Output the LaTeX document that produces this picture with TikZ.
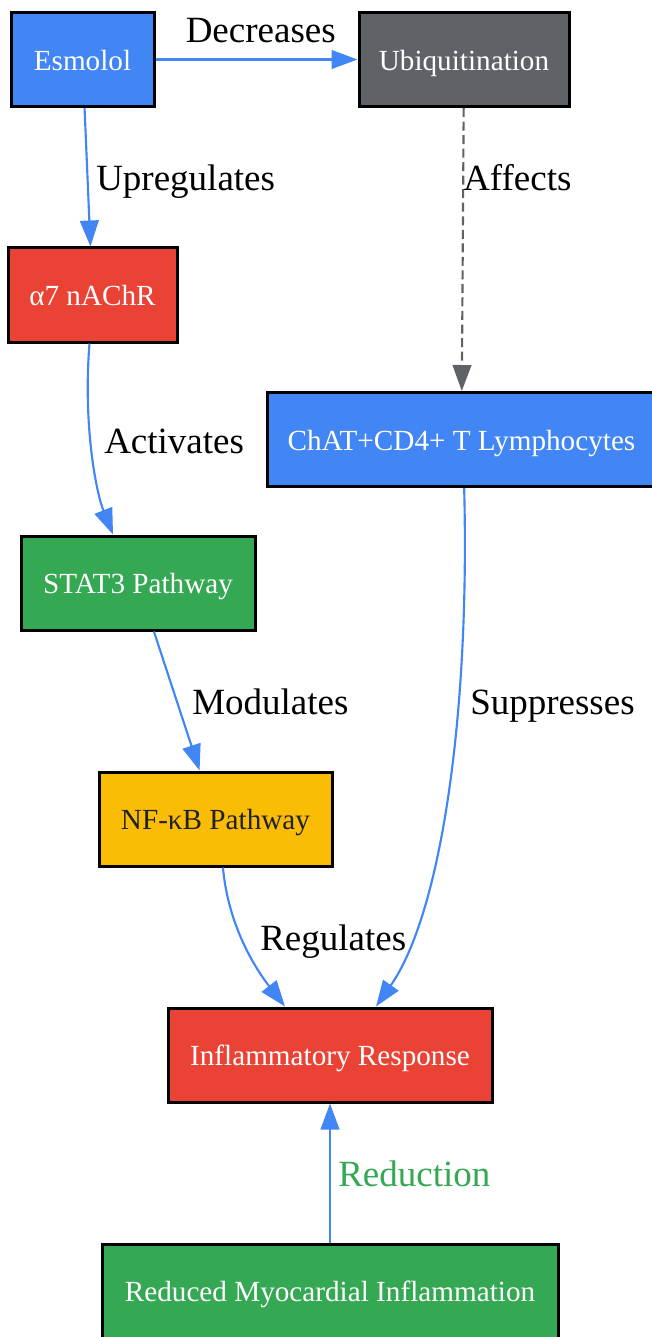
\documentclass[tikz,border=0pt]{standalone}
\usepackage{fontspec}
\setmainfont{Liberation Serif}
\usepackage{xcolor}
\definecolor{gblue}{HTML}{4285F4}
\definecolor{gred}{HTML}{EA4335}
\definecolor{ggreen}{HTML}{34A853}
\definecolor{gyellow}{HTML}{FBBC05}
\definecolor{ggray}{HTML}{5F6368}
\definecolor{ink}{HTML}{202124}
\usetikzlibrary{arrows.meta}
\tikzset{
  every node/.style={
    text=white
  },
  box/.style={draw=black, line width=2.25pt, minimum height=70.5pt, inner sep=0pt,
    text height=16pt, text depth=0pt, font=\fontsize{21.9}{26}\selectfont},
  lbl/.style={text=black, inner sep=0pt, anchor=base west,
    font=\fontsize{27.75}{32}\selectfont},
  link/.style={gblue, line width=1.6pt, -{Triangle[length=19.5pt,width=14pt]}}
}

\begin{document}
\begin{tikzpicture}[x=0.75pt, y=-0.75pt]
    %\draw[gray, very thin] (0,0) rectangle (652,1337);
    \useasboundingbox (0,0) rectangle (652,1337);
    \clip (0,0) rectangle (652,1337);

    \node [box, fill=gblue, minimum width=107.25pt] (esm) at (82.5,59.5) {Esmolol};
    \node [box, fill=ggray, minimum width=157.5pt] (ubi) at (464,59.5) {Ubiquitination};
    \node [box, fill=gred, minimum width=126.75pt] (a7) at (92.5,295) {α7 nAChR};
    \node [box, fill=gblue, minimum width=291.75pt] (chat) at (461.5,439.5) {ChAT+CD4+ T Lymphocytes};
    \node [box, fill=ggreen, minimum width=175.5pt] (stat) at (138,583) {STAT3 Pathway};
    \node [box, fill=gyellow, minimum width=174.75pt, text=ink] (nfkb) at (215.5,819) {NF-κB Pathway};
    \node [box, fill=gred, minimum width=243pt] (infl) at (330,1055) {Inflammatory Response};
    \node [box, fill=ggreen, minimum width=342pt] (red) at (330,1291) {Reduced Myocardial Inflammation};

    \draw [link] (esm) -- (ubi);
    \draw [link] (esm) -- (a7);
    \draw [link, ggray, dash pattern=on 6.75pt off 3.4pt] (ubi) -- (chat);
    \draw [link] ([xshift=-2.25pt]a7.south) .. controls (83,425) and (96,492) .. ([xshift=-18.75pt]stat.north);
    \draw [link] (stat) -- (nfkb);
    \draw [link] ([xshift=5.6pt]nfkb.south) .. controls (228,925) and (255,968) .. ([xshift=-33.75pt]infl.north);
    \draw [link] ([xshift=2pt]chat.south) .. controls (470,720) and (440,915) .. ([xshift=34.5pt]infl.north);
    \draw [link] (red) -- (infl);

    \node [lbl] (dec) at (185.5,43) {Decreases};
    \node [lbl] (upr) at (96,191) {Upregulates};
    \node [lbl] (aff) at (463,191) {Affects};
    \node [lbl] (act) at (104,453) {Activates};
    \node [lbl] (mod) at (192,714) {Modulates};
    \node [lbl] (sup) at (470,714) {Suppresses};
    \node [lbl] (reg) at (260,950) {Regulates};
    \node [lbl, text=ggreen] (rdn) at (338,1186) {Reduction};
\end{tikzpicture}
\end{document}
